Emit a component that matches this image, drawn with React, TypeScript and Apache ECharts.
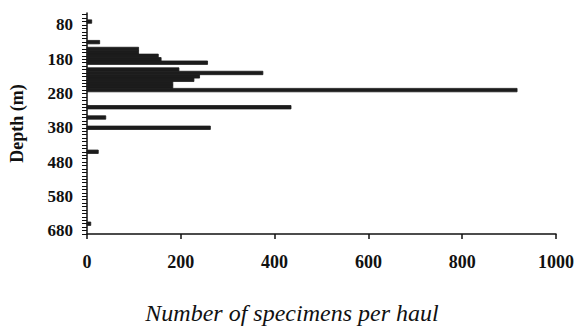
import React, { useEffect, useRef } from "react";
import * as echarts from "echarts";

const depths = [70, 130, 150, 160, 170, 180, 190, 210, 220, 230, 240, 250, 260, 270, 320, 350, 380, 450, 660];
const counts = [10, 27, 110, 110, 152, 158, 257, 196, 375, 240, 228, 183, 183, 917, 435, 40, 263, 24, 8];
const depthLabels = [80, 180, 280, 380, 480, 580, 680];
const depthTicks: number[] = [];
for (let d = 50; d <= 690; d += 10) depthTicks.push(d);
const xTitle = "Number of specimens per haul";
const yTitle = "Depth (m)";

export default function App() {
  const ref = useRef<HTMLDivElement>(null);
  useEffect(() => {
    if (!ref.current) return;
    const chart = echarts.init(ref.current, null, { renderer: "svg" });
    const data = depths.map((d, i) => [counts[i], d]);
    chart.setOption({
      animation: false,
      backgroundColor: "#ffffff",
      grid: { left: 77, right: 22, top: 13, bottom: 98 },
      xAxis: {
        type: "value",
        min: 0,
        max: 1000,
        interval: 200,
        splitLine: { show: false },
        axisLine: { show: true, lineStyle: { color: "#111", width: 1.5 } },
        axisTick: { show: true, inside: false, length: 5, lineStyle: { color: "#111", width: 1.5 } },
        axisLabel: {
          margin: 19,
          color: "#111",
          fontFamily: "Liberation Serif",
          fontWeight: "bold",
          fontSize: 18,
          formatter: (v: number) => String(v),
        },
      },
      yAxis: {
        type: "value",
        inverse: true,
        min: 45,
        max: 690,
        splitLine: { show: false },
        axisLine: { show: true, lineStyle: { color: "#111", width: 1.5 } },
        axisTick: {
          show: true,
          inside: false,
          length: 5,
          customValues: depthTicks,
          lineStyle: { color: "#111", width: 1 },
        },
        axisLabel: {
          margin: 14,
          color: "#111",
          fontFamily: "Liberation Serif",
          fontWeight: "bold",
          fontSize: 17,
          customValues: depthLabels,
          formatter: (v: number) => String(v),
        },
        name: yTitle,
        nameLocation: "middle",
        nameRotate: 90,
        nameGap: 61,
        nameTextStyle: {
          color: "#111",
          fontFamily: "Liberation Serif",
          fontWeight: "bold",
          fontSize: 18,
        },
      },
      series: [
        {
          type: "custom",
          data,
          encode: { x: 0, y: 1 },
          renderItem: (params: any, api: any) => {
            const v = api.value(0);
            const d = api.value(1);
            const p0 = api.coord([0, d - 5]);
            const p1 = api.coord([v, d + 5]);
            const top = Math.min(p0[1], p1[1]);
            const h = Math.abs(p1[1] - p0[1]);
            return {
              type: "rect",
              shape: {
                x: p0[0],
                y: top,
                width: p1[0] - p0[0],
                height: h,
              },
              style: { fill: "#1c1c1c", stroke: "#1c1c1c", lineWidth: 0.8 },
            };
          },
        },
      ],
      graphic: [
        {
          type: "text",
          x: 292,
          y: 313,
          style: {
            text: xTitle,
            fill: "#111",
            font: "italic 24px 'Liberation Serif'",
            align: "center",
            verticalAlign: "middle",
          },
        },
      ],
    });
    return () => chart.dispose();
  }, []);
  return (
    <div
      ref={ref}
      style={{ position: "fixed", left: 0, top: 0, width: 578, height: 332, background: "#fff" }}
    />
  );
}
